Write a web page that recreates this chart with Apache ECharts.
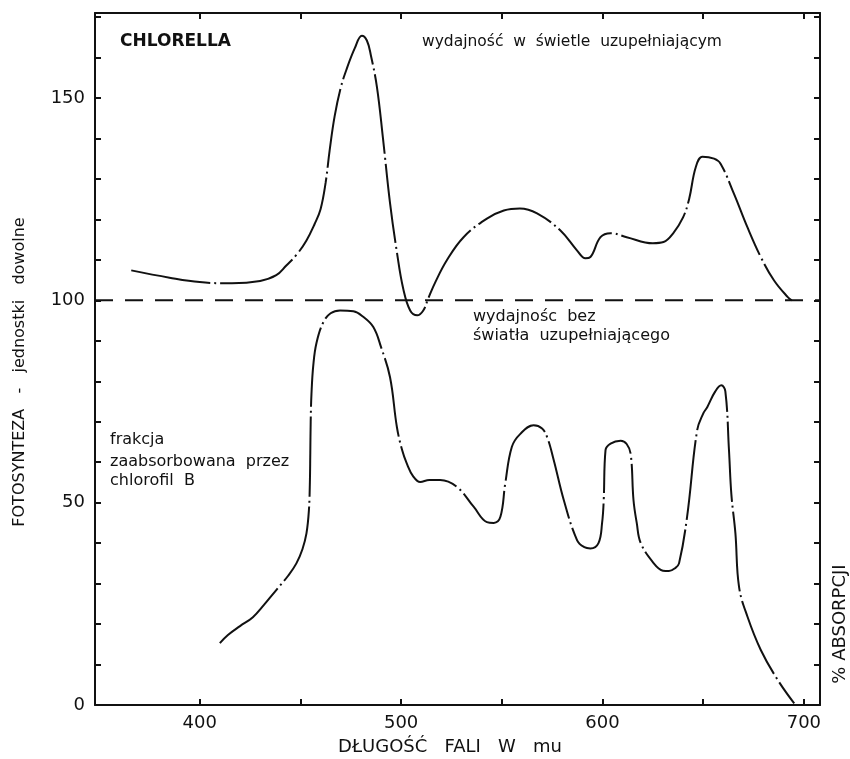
<!DOCTYPE html>
<html>
<head>
<meta charset="utf-8">
<title>Chlorella</title>
<script src="https://cdn.jsdelivr.net/npm/echarts@6/dist/echarts.min.js"></script>
<style>
  html, body { margin: 0; padding: 0; background: #fff; }
  #chart { width: 850px; height: 759px; }
</style>
</head>
<body>
<div id="chart"></div>
<script>
// fotosynteza w świetle uzupełniającym (górna krzywa)
const upperX = [366, 385, 400, 416, 430, 438, 443, 448, 453, 457, 460, 462.5, 464.5, 467, 470, 473, 477, 480.5, 483, 485, 488, 491, 494.5, 498, 501, 504.5, 508, 511, 513.5, 517, 522.7, 531, 542.6, 551, 559, 567.5, 579, 587.4, 591.5, 594, 599, 604, 612, 625, 630.3, 635, 640, 643, 646.3, 649.6, 655.4, 658.7, 665.3, 672, 678.6, 685.2, 692, 694];
const upperY = [107.4, 105.6, 104.5, 104.2, 104.8, 106.2, 108.6, 111.2, 114.8, 118.8, 122.5, 129, 137, 145.5, 152.5, 157.2, 162.3, 165.4, 164.2, 160.5, 152.7, 140, 124, 111.6, 103, 97.5, 96.3, 97.5, 100.5, 104.5, 109.9, 115.6, 120.2, 122.2, 122.7, 121.5, 117.3, 112.3, 110.4, 110.7, 115.6, 116.6, 115.6, 114.1, 114.4, 116.5, 120.5, 125, 132.9, 135.5, 135, 133.7, 126.3, 118, 110.7, 104.9, 100.8, 100];

// frakcja zaabsorbowana przez chlorofil B (dolna krzywa)
const lowerX = [410, 414, 420, 426.4, 432, 438, 444, 448, 451, 453, 454.2, 454.7, 454.9, 455.1, 455.5, 456.4, 458, 461.4, 465, 469.7, 476.3, 481, 486.2, 490, 494.5, 497.9, 500.5, 502.8, 506, 509.5, 514, 519.4, 527.7, 536, 542.6, 546, 549.3, 551.7, 555, 559.2, 565.8, 570, 572.5, 575.8, 580.8, 587.4, 591, 594, 598, 599.8, 600.6, 601.5, 604, 609, 612, 614, 615.4, 617, 619, 625.5, 630, 633, 636, 638, 642, 647, 650, 652, 656, 659, 661, 662.8, 664, 666, 667.8, 672, 678.6, 687, 695.2];
const lowerY = [15.3, 17.3, 19.5, 21.7, 24.8, 28.4, 32, 35, 38.5, 42.4, 48, 55, 62, 70, 77, 84, 89.5, 94.6, 96.8, 97.5, 97.3, 96, 93.4, 88.5, 81, 68.7, 63, 59.7, 56.5, 55.1, 55.6, 55.6, 53.9, 49, 45.2, 45, 46.5, 54.7, 63.8, 67, 69.1, 68.3, 66.2, 60.5, 50.6, 40.7, 39, 38.7, 40, 45, 50.6, 63, 64.6, 65.3, 64.5, 62, 50.6, 45, 40, 35, 33.2, 33.1, 33.8, 35, 46.5, 67.9, 72, 73.6, 77.5, 79, 77.5, 63, 52, 42.4, 29.2, 21.8, 13.6, 6.2, 0.4];

// wydajność bez światła uzupełniającego
const baseline = 100;

const xTicks = [400, 450, 500, 550, 600, 650, 700];
const xLabels = [400, 500, 600, 700];
const yTicks = [0, 10, 20, 30, 40, 50, 60, 70, 80, 90, 100, 110, 120, 130, 140, 150, 160, 170];
const yLabels = [0, 50, 100, 150];

const X_MIN = 348, X_MAX = 708;
const INK = '#111';
const FONT = 'DejaVu Sans';

function zip(xs, ys) {
  return xs.map((x, i) => [x, ys[i]]);
}

// napis w dowolnym miejscu wykresu
function label(text, x, y, size, opts) {
  opts = opts || {};
  const align = opts.align || 'left';
  return {
    type: 'text', x: x, y: y, rotation: opts.rotation || 0,
    style: {
      text: text, font: (opts.bold ? 'bold ' : '') + size + 'px ' + FONT, fill: INK,
      textAlign: align, textVerticalAlign: 'middle', align: align, verticalAlign: 'middle'
    }
  };
}

const chart = echarts.init(document.getElementById('chart'));

const axisLine = { show: true, onZero: false, lineStyle: { color: INK, width: 2 } };
const tick = (vals) => ({ inside: true, length: 6, customValues: vals, lineStyle: { color: INK, width: 2 } });

chart.setOption({
  animation: false,
  backgroundColor: '#fff',
  grid: { left: 95, right: 30, top: 13, bottom: 54 },
  xAxis: [
    {
      type: 'value', position: 'bottom', min: X_MIN, max: X_MAX,
      axisLine: axisLine, axisTick: tick(xTicks),
      axisLabel: { customValues: xLabels, color: INK, fontSize: 18, fontFamily: FONT, margin: 9 },
      splitLine: { show: false }
    },
    {
      type: 'value', position: 'top', min: X_MIN, max: X_MAX,
      axisLine: axisLine, axisTick: tick(xTicks),
      axisLabel: { show: false }, splitLine: { show: false }
    }
  ],
  yAxis: [
    {
      type: 'value', position: 'left', min: 0, max: 171,
      axisLine: axisLine, axisTick: tick(yTicks),
      axisLabel: { customValues: yLabels, color: INK, fontSize: 18, fontFamily: FONT, margin: 10 },
      splitLine: { show: false }
    },
    {
      type: 'value', position: 'right', min: 0, max: 171,
      axisLine: axisLine, axisTick: tick(yTicks),
      axisLabel: { show: false }, splitLine: { show: false }
    }
  ],
  series: [
    {
      name: 'wydajność w świetle uzupełniającym',
      type: 'line',
      data: zip(upperX, upperY),
      symbol: 'none', smooth: 0.4,
      lineStyle: { color: INK, width: 2, type: [80, 4, 2, 4] }
    },
    {
      name: 'frakcja zaabsorbowana przez chlorofil B',
      type: 'line',
      data: zip(lowerX, lowerY),
      symbol: 'none', smooth: 0.4,
      lineStyle: { color: INK, width: 2, type: [80, 4, 2, 4] }
    },
    {
      name: 'wydajność bez światła uzupełniającego',
      type: 'line',
      data: [[X_MIN, baseline], [X_MAX, baseline]],
      symbol: 'none',
      lineStyle: { color: INK, width: 2, type: [18, 12] }
    }
  ],
  graphic: [
    label('CHLORELLA', 120, 42, 17, { bold: true }),
    label('wydajność  w  świetle  uzupełniającym', 422, 42, 15.5),
    label('wydajnośc  bez', 473, 317, 16),
    label('światła  uzupełniającego', 473, 336, 16),
    label('frakcja', 110, 440, 16),
    label('zaabsorbowana  przez', 110, 462, 16),
    label('chlorofil  B', 110, 481, 16),
    label('FOTOSYNTEZA   -   jednostki   dowolne', 20, 372, 16, { align: 'center', rotation: Math.PI / 2 }),
    label('% ABSORPCJI', 840, 624, 18, { align: 'center', rotation: Math.PI / 2 }),
    label('DŁUGOŚĆ   FALI   W   mu', 450, 747, 18, { align: 'center' })
  ]
});
</script>
</body>
</html>
